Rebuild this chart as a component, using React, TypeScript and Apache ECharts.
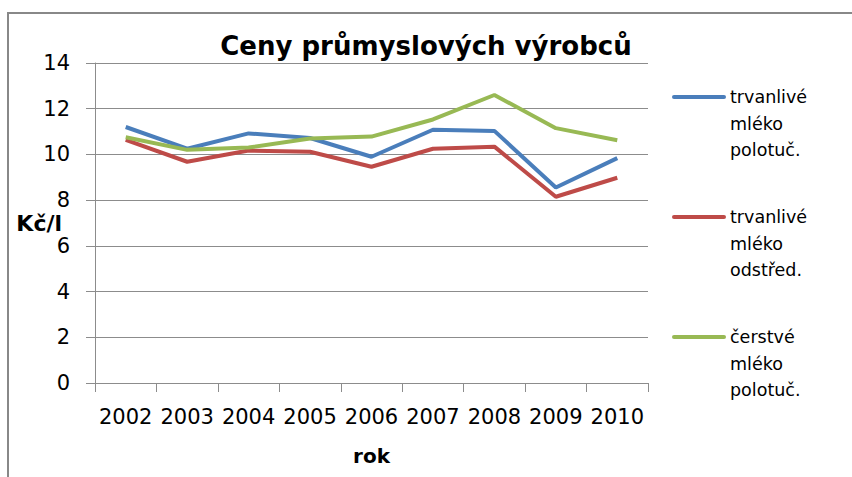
import React, { useEffect, useRef } from "react";
import * as echarts from "echarts";

const titleText = "Ceny průmyslových výrobců";
const years = ["2002", "2003", "2004", "2005", "2006", "2007", "2008", "2009", "2010"];
const seriesNames = ["trvanlivé\nmléko\npolotuč.", "trvanlivé\nmléko\nodstřed.", "čerstvé\nmléko\npolotuč."];
const blueValues = [11.2, 10.25, 10.92, 10.72, 9.9, 11.08, 11.03, 8.55, 9.84];
const redValues = [10.64, 9.68, 10.17, 10.12, 9.46, 10.25, 10.34, 8.15, 8.98];
const greenValues = [10.75, 10.2, 10.3, 10.7, 10.78, 11.53, 12.6, 11.15, 10.62];
const seriesColors = ["#4A7EBB", "#BE4B48", "#98B954"];
const yAxisName = "Kč/l";
const xAxisName = "rok";

const FONT = "'DejaVu Sans', sans-serif";

export default function App() {
  const ref = useRef<HTMLDivElement>(null);
  useEffect(() => {
    if (!ref.current) return;
    const chart = echarts.init(ref.current, undefined, { renderer: "svg" });
    const values = [blueValues, redValues, greenValues];
    const legendGraphics: any[] = [];
    seriesNames.forEach((name, i) => {
      const y = 97 + i * 120;
      legendGraphics.push({
        type: "line",
        shape: { x1: 674, y1: y, x2: 724, y2: y },
        style: { stroke: seriesColors[i], lineWidth: 4, lineCap: "round" },
      });
      legendGraphics.push({
        type: "text",
        x: 730,
        y: y - 13.25,
        style: {
          text: name,
          fontFamily: FONT,
          fontSize: 17.5,
          lineHeight: 26.5,
          fill: "#000",
          textVerticalAlign: "top",
          textAlign: "left",
        },
      });
    });
    chart.setOption({
      animation: false,
      backgroundColor: "#fff",
      title: {
        text: titleText,
        left: 421,
        top: 28,
        textAlign: "center",
        textStyle: { fontFamily: FONT, fontSize: 26, fontWeight: "bold", color: "#000" },
      },
      grid: { left: 95, right: 204, top: 63, bottom: 94, containLabel: false, outerBoundsMode: "none" },
      xAxis: {
        type: "category",
        data: years,
        boundaryGap: true,
        name: xAxisName,
        nameLocation: "middle",
        nameGap: 63,
        nameMoveOverlap: false,
        nameTextStyle: { fontFamily: FONT, fontSize: 20, fontWeight: "bold", color: "#000" },
        axisLine: { show: true, lineStyle: { color: "#8c8c8c", width: 1 } },
        axisTick: { show: true, length: 9, inside: false, lineStyle: { color: "#8c8c8c" } },
        axisLabel: { fontFamily: FONT, fontSize: 21, color: "#000", margin: 23, interval: 0 },
        splitLine: { show: false },
      },
      yAxis: {
        type: "value",
        min: 0,
        max: 14,
        interval: 2,
        name: yAxisName,
        nameLocation: "middle",
        nameRotate: 0,
        nameGap: 33,
        nameMoveOverlap: false,
        nameTextStyle: { fontFamily: FONT, fontSize: 22, fontWeight: "bold", color: "#000" },
        axisLine: { show: true, lineStyle: { color: "#8c8c8c", width: 1 } },
        axisTick: { show: true, length: 9, inside: false, lineStyle: { color: "#8c8c8c" } },
        axisLabel: { fontFamily: FONT, fontSize: 21, color: "#000", margin: 25 },
        splitLine: { show: true, lineStyle: { color: "#8c8c8c", width: 1 } },
      },
      series: values.map((v, i) => ({
        type: "line",
        name: seriesNames[i],
        data: v,
        symbol: "none",
        smooth: false,
        lineStyle: { color: seriesColors[i], width: 4 },
        itemStyle: { color: seriesColors[i] },
        z: 2 + i,
      })),
      graphic: [
        {
          type: "rect",
          shape: { x: 8, y: 13, width: 900, height: 500 },
          style: { fill: "none", stroke: "#888888", lineWidth: 2 },
          silent: true,
        },
        ...legendGraphics,
      ],
    });
    return () => chart.dispose();
  }, []);
  return (
    <div
      ref={ref}
      style={{ position: "fixed", left: 0, top: 0, width: 852, height: 477 }}
    />
  );
}
